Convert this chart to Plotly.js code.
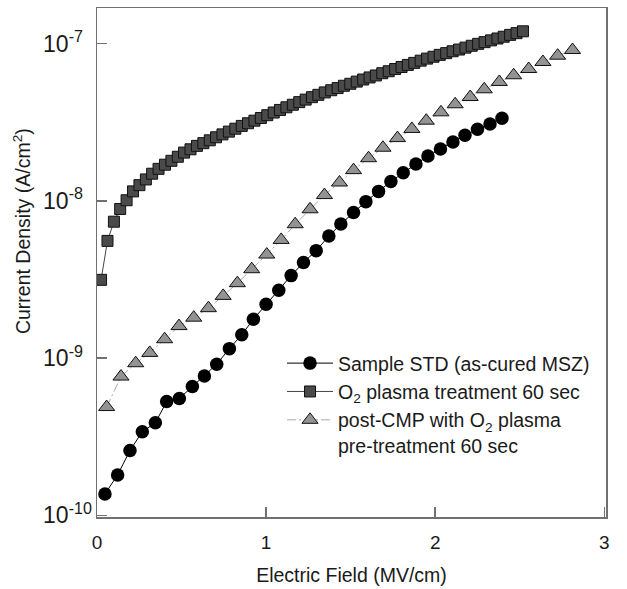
<!DOCTYPE html>
<html>
<head>
<meta charset="utf-8">
<script src="https://cdn.plot.ly/plotly-3.0.1.min.js"></script>
<style>html,body{margin:0;padding:0;background:#fff;}#chart{width:627px;height:589px;}</style>
</head>
<body>
<div id="chart"></div>
<script>
// Sample STD (as-cured MSZ) — circles
var stdX = [0.047,0.122,0.195,0.268,0.345,0.412,0.487,0.564,0.635,0.708,0.783,0.856,0.925,1.000,1.075,1.148,1.221,1.296,1.371,1.442,1.517,1.590,1.665,1.738,1.811,1.886,1.957,2.031,2.105,2.176,2.250,2.324,2.395];
var stdY = [1.37e-10,1.81e-10,2.59e-10,3.41e-10,3.88e-10,5.30e-10,5.54e-10,6.60e-10,7.70e-10,9.16e-10,1.15e-9,1.41e-9,1.77e-9,2.20e-9,2.70e-9,3.35e-9,4.06e-9,4.83e-9,5.98e-9,7.14e-9,8.43e-9,9.90e-9,1.15e-8,1.33e-8,1.51e-8,1.72e-8,1.93e-8,2.14e-8,2.37e-8,2.62e-8,2.86e-8,3.09e-8,3.36e-8];

// O2 plasma treatment 60 sec — squares
var o2X = [0.024,0.062,0.100,0.137,0.175,0.213,0.251,0.289,0.326,0.364,0.402,0.440,0.478,0.515,0.553,0.591,0.629,0.667,0.704,0.742,0.780,0.818,0.856,0.893,0.931,0.969,1.007,1.045,1.082,1.120,1.158,1.196,1.234,1.271,1.309,1.347,1.385,1.423,1.460,1.498,1.536,1.574,1.612,1.649,1.687,1.725,1.763,1.801,1.838,1.876,1.914,1.952,1.990,2.027,2.065,2.103,2.141,2.179,2.216,2.254,2.292,2.330,2.368,2.405,2.443,2.481,2.519];
var o2Y = [3.15e-9,5.57e-9,7.38e-9,8.89e-9,1.01e-8,1.15e-8,1.26e-8,1.37e-8,1.49e-8,1.60e-8,1.70e-8,1.80e-8,1.91e-8,2.03e-8,2.13e-8,2.24e-8,2.33e-8,2.43e-8,2.54e-8,2.65e-8,2.76e-8,2.88e-8,3.00e-8,3.12e-8,3.24e-8,3.37e-8,3.51e-8,3.65e-8,3.79e-8,3.94e-8,4.09e-8,4.25e-8,4.41e-8,4.57e-8,4.73e-8,4.90e-8,5.06e-8,5.22e-8,5.40e-8,5.56e-8,5.74e-8,5.92e-8,6.10e-8,6.28e-8,6.49e-8,6.68e-8,6.90e-8,7.11e-8,7.33e-8,7.55e-8,7.80e-8,8.04e-8,8.26e-8,8.49e-8,8.71e-8,8.95e-8,9.18e-8,9.44e-8,9.70e-8,9.98e-8,1.023e-7,1.050e-7,1.079e-7,1.107e-7,1.138e-7,1.167e-7,1.199e-7];

// post-CMP with O2 plasma pre-treatment 60 sec — triangles
var cmpX = [0.057,0.142,0.229,0.312,0.400,0.485,0.572,0.659,0.746,0.830,0.915,1.004,1.089,1.172,1.260,1.345,1.434,1.517,1.606,1.691,1.777,1.862,1.947,2.034,2.118,2.207,2.290,2.379,2.464,2.553,2.637,2.724,2.812];
var cmpY = [4.89e-10,7.64e-10,9.29e-10,1.08e-9,1.32e-9,1.60e-9,1.81e-9,2.08e-9,2.49e-9,3.00e-9,3.68e-9,4.56e-9,5.65e-9,7.11e-9,8.85e-9,1.09e-8,1.31e-8,1.57e-8,1.87e-8,2.18e-8,2.51e-8,2.87e-8,3.24e-8,3.66e-8,4.12e-8,4.58e-8,5.13e-8,5.71e-8,6.30e-8,6.90e-8,7.65e-8,8.39e-8,9.12e-8];

var xTicks = [0,1,2,3];
var yTicks = [1e-10,1e-9,1e-8,1e-7];
// trailing padding keeps the labels left-aligned as in the reference
var yTickText = ['10<sup>-10</sup>','10<sup>-9&nbsp;&nbsp;</sup>','10<sup>-8&nbsp;&nbsp;</sup>','10<sup>-7&nbsp;&nbsp;</sup>'];

var names = ['Sample STD (as-cured MSZ)','O<sub>2</sub> plasma treatment 60 sec','post-CMP with O<sub>2</sub> plasma<br>pre-treatment 60 sec'];
var xTitle = 'Electric Field (MV/cm)';
var yTitle = 'Current Density (A/cm<sup>2</sup>)';

var traces = [
  {x: stdX, y: stdY, name: names[0], type: 'scatter', mode: 'lines+markers',
   line: {color: '#000000', width: 1},
   marker: {symbol: 'circle', size: 13.5, color: '#000000', line: {color: '#000000', width: 0}}},
  {x: o2X, y: o2Y, name: names[1], type: 'scatter', mode: 'lines+markers',
   line: {color: '#444444', width: 1},
   marker: {symbol: 'square', size: 11, color: '#4a4a4a', line: {color: '#111111', width: 1}}},
  {x: cmpX, y: cmpY, name: names[2], type: 'scatter', mode: 'lines+markers',
   line: {color: '#aaaaaa', width: 1, dash: '9px,3px,2px,3px'},
   marker: {symbol: 'triangle-up', size: 14, color: '#939393', line: {color: '#111111', width: 1}}}
];

var fnt = {family: 'Liberation Sans, Arial, sans-serif', size: 19.5, color: '#1a1a1a'};
var xtfnt = {family: 'Liberation Sans, Arial, sans-serif', size: 19, color: '#1a1a1a'};
var ytfnt = {family: 'Liberation Sans, Arial, sans-serif', size: 23, color: '#1a1a1a'};

var layout = {
  width: 627, height: 589,
  margin: {l: 97, r: 21, t: 8, b: 72, pad: 0},
  paper_bgcolor: '#ffffff', plot_bgcolor: '#ffffff',
  font: fnt,
  showlegend: true,
  legend: {x: 0.3635, y: 0.34, xanchor: 'left', yanchor: 'top', bgcolor: 'rgba(0,0,0,0)',
           font: fnt, valign: 'top', tracegroupgap: 0, itemwidth: 46},
  xaxis: {
    range: [0, 3.01], tickvals: xTicks, ticktext: xTicks.map(String),
    ticks: 'inside', ticklen: 10, tickwidth: 1.5, tickcolor: '#707070',
    showline: true, linecolor: '#707070', linewidth: 1.5, mirror: true,
    showgrid: false, zeroline: false, ticklabelstandoff: 8,
    tickfont: xtfnt,
    title: {text: xTitle, font: fnt, standoff: 16}
  },
  yaxis: {
    type: 'log', range: [-10.01, -6.773], tickvals: yTicks, ticktext: yTickText,
    ticks: 'inside', ticklen: 10, tickwidth: 1.5, tickcolor: '#707070',
    showline: true, linecolor: '#707070', linewidth: 1.5, mirror: true,
    showgrid: false, zeroline: false, ticklabelstandoff: -1,
    tickfont: ytfnt
  },
  annotations: [
    {text: yTitle, xref: 'paper', yref: 'paper', x: -0.147, y: 0.562,
     xanchor: 'center', yanchor: 'middle', textangle: -90, showarrow: false, font: fnt}
  ]
};

Plotly.newPlot('chart', traces, layout, {displayModeBar: false, staticPlot: true});
</script>
</body>
</html>
